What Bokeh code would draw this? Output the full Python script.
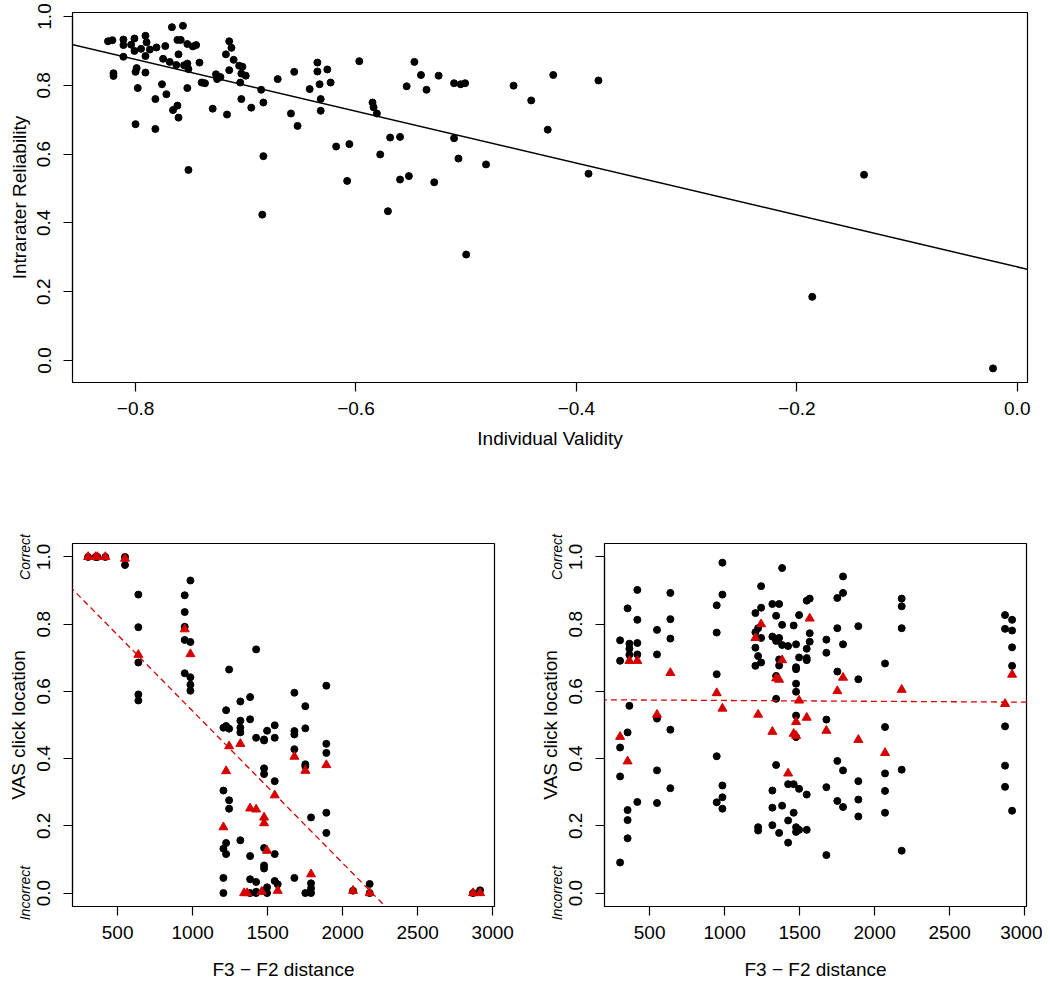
from bokeh.plotting import figure
from bokeh.layouts import column, row
from bokeh.models import Range1d, FixedTicker, CustomJSTickFormatter, Slope, LinearAxis
from bokeh.embed import file_html
from bokeh.resources import INLINE

# ---------------- top panel data ----------------
validity = [
    -0.825, -0.821, -0.811, -0.811, -0.820, -0.820, -0.811, -0.804, -0.801, -0.801,
    -0.795, -0.791, -0.790, -0.791, -0.799, -0.800, -0.791, -0.798, -0.787, -0.781,
    -0.773, -0.767, -0.757, -0.762, -0.759, -0.753, -0.748, -0.745, -0.775, -0.769,
    -0.763, -0.761, -0.756, -0.753, -0.752, -0.742, -0.776, -0.772, -0.782, -0.753,
    -0.800, -0.782, -0.766, -0.762, -0.761, -0.752, -0.740, -0.737, -0.730, -0.727,
    -0.726, -0.723, -0.718, -0.715, -0.713, -0.711, -0.715, -0.706, -0.703, -0.704,
    -0.700, -0.705, -0.704, -0.695, -0.717, -0.686, -0.684, -0.684, -0.685, -0.671,
    -0.659, -0.653, -0.656, -0.642, -0.635, -0.635, -0.626, -0.633, -0.632, -0.632,
    -0.623, -0.597, -0.585, -0.584, -0.581, -0.618, -0.606, -0.608, -0.578, -0.569,
    -0.560, -0.571, -0.560,
    -0.547, -0.541, -0.525, -0.554, -0.536, -0.511, -0.505, -0.501, -0.552, -0.529,
    -0.511, -0.507, -0.482, -0.500, -0.457, -0.441, -0.421, -0.426, -0.380, -0.389,
    -0.139, -0.186, -0.022,
]
reliability = [
    0.928, 0.931, 0.933, 0.917, 0.835, 0.827, 0.883, 0.918, 0.936, 0.900,
    0.906, 0.944, 0.925, 0.885, 0.850, 0.839, 0.837, 0.792, 0.904, 0.910,
    0.914, 0.969, 0.973, 0.932, 0.932, 0.920, 0.913, 0.917, 0.877, 0.868,
    0.859, 0.890, 0.858, 0.863, 0.847, 0.866, 0.803, 0.774, 0.760, 0.792,
    0.687, 0.673, 0.728, 0.741, 0.706, 0.554, 0.808, 0.806, 0.732, 0.832,
    0.818, 0.824, 0.890, 0.928, 0.909, 0.874, 0.844, 0.857, 0.854, 0.834,
    0.828, 0.808, 0.760, 0.735, 0.715, 0.787, 0.750, 0.594, 0.424, 0.818,
    0.718, 0.682, 0.839, 0.789, 0.866, 0.840, 0.846, 0.803, 0.760, 0.726,
    0.808, 0.870, 0.750, 0.736, 0.718, 0.622, 0.629, 0.522, 0.599, 0.648,
    0.650, 0.434, 0.526,
    0.868, 0.830, 0.828, 0.797, 0.787, 0.806, 0.803, 0.806, 0.536, 0.518,
    0.646, 0.587, 0.570, 0.308, 0.799, 0.756, 0.830, 0.671, 0.814, 0.543,
    0.540, 0.185, -0.023,
]
fit_intercept = 0.272
fit_slope = -0.754

# ---------------- bottom-left panel data ----------------
left_dot_x = [
    303, 353, 365, 418, 549, 549,
    638, 638, 638, 638, 638,
    947, 947, 947, 947, 947,
    985, 985, 985, 985, 985,
    1205, 1205, 1205, 1205, 1205,
    1223, 1223, 1223, 1223,
    1243, 1243, 1243, 1243,
    1318, 1318, 1318, 1318, 1318,
    1383, 1383, 1383, 1383, 1383,
    1423, 1423, 1423, 1423, 1423,
    1476, 1476, 1476, 1476, 1476, 1476, 1476, 1476,
    1496, 1496, 1496,
    1547, 1547, 1547, 1547, 1547,
    1567,
    1678, 1678, 1678, 1678, 1678,
    1751, 1751, 1751, 1751, 1751,
    1789, 1789, 1789, 1789,
    1891, 1891, 1891, 1891, 1891,
    2069, 2180, 2180, 2869, 2916,
]
left_dot_y = [
    1.0, 1.0, 1.0, 1.0, 1.0, 0.976,
    0.888, 0.791, 0.686, 0.591, 0.573,
    0.886, 0.836, 0.792, 0.753, 0.654,
    0.930, 0.747, 0.642, 0.620, 0.602,
    0.492, 0.305, 0.132, 0.045, 0.0,
    0.544, 0.497, 0.149, 0.116,
    0.665, 0.489, 0.276, 0.251,
    0.570, 0.513, 0.492, 0.478, 0.157,
    0.583, 0.517, 0.110, 0.041, 0.0,
    0.725, 0.462, 0.033, 0.004, 0.0,
    0.457, 0.454, 0.371, 0.354, 0.134, 0.082, 0.073, 0.006,
    0.483, 0.017, 0.0,
    0.499, 0.462, 0.333, 0.116, 0.036,
    0.026,
    0.596, 0.482, 0.472, 0.428, 0.045,
    0.556, 0.490, 0.383, 0.377, 0.0,
    0.225, 0.029, 0.014, 0.0,
    0.617, 0.444, 0.417, 0.239, 0.179,
    0.007, 0.027, 0.0, 0.0, 0.008,
]
left_tri_x = [
    303, 353, 365, 418, 549, 638, 947, 985, 1205, 1223, 1243, 1318,
    1343, 1363, 1383, 1423, 1460, 1476, 1476, 1496, 1547, 1567, 1678,
    1751, 1789, 1891, 2069, 2180, 2869, 2916,
]
left_tri_y = [
    1.0, 1.0, 1.0, 1.0, 0.995, 0.709, 0.785, 0.711, 0.196, 0.363, 0.437, 0.444,
    0.0, 0.0, 0.252, 0.249, 0.004, 0.225, 0.208, 0.126, 0.291, 0.007, 0.406,
    0.364, 0.056, 0.381, 0.007, 0.0, 0.0, 0.0,
]
left_fit_intercept = 0.994
left_fit_slope = -0.0004525

# ---------------- bottom-right panel data ----------------
right_dot_x = [
    303, 303, 303, 303, 303,
    353, 353, 353, 353, 353,
    365, 365, 365, 365,
    418, 418, 418, 418, 418,
    549, 549, 549, 549, 549,
    638, 638, 638, 638, 638,
    947, 947, 947, 947, 947,
    985, 985, 985, 985, 985,
    1205, 1205, 1205, 1205,
    1223, 1223, 1223, 1223,
    1243, 1243, 1243, 1243,
    1318, 1318, 1318, 1318, 1318,
    1343, 1343, 1343, 1343, 1343,
    1363, 1363, 1363, 1363, 1363,
    1383, 1383, 1383, 1383,
    1423, 1423, 1423, 1423,
    1460, 1460, 1460,
    1476, 1476, 1476, 1476, 1476, 1476, 1476, 1476, 1476,
    1496, 1496, 1496, 1496,
    1547, 1547, 1547, 1547, 1547, 1547,
    1567, 1567, 1567,
    1678, 1678, 1678, 1678, 1678,
    1751, 1751, 1751, 1751, 1751,
    1789, 1789, 1789, 1789, 1789,
    1891, 1891, 1891, 1891, 1891,
    2069, 2069, 2069, 2069, 2069,
    2180, 2180, 2180, 2180, 2180,
    2869, 2869, 2869, 2869, 2869,
    2916, 2916, 2916, 2916, 2916,
]
right_dot_y = [
    0.752, 0.691, 0.433, 0.347, 0.091,
    0.847, 0.478, 0.247, 0.217, 0.163,
    0.742, 0.727, 0.709, 0.557,
    0.902, 0.813, 0.744, 0.710, 0.271,
    0.783, 0.710, 0.519, 0.365, 0.268,
    0.893, 0.815, 0.757, 0.486, 0.312,
    0.856, 0.775, 0.651, 0.407, 0.270,
    0.983, 0.888, 0.320, 0.285, 0.251,
    0.833, 0.776, 0.730, 0.676,
    0.788, 0.705, 0.196, 0.186,
    0.913, 0.849, 0.759, 0.686,
    0.860, 0.763, 0.305, 0.254, 0.202,
    0.825, 0.750, 0.646, 0.578, 0.381,
    0.860, 0.759, 0.695, 0.677, 0.179,
    0.967, 0.798, 0.738, 0.260,
    0.735, 0.324, 0.216, 0.150,
    0.796, 0.324, 0.239,
    0.740, 0.672, 0.666, 0.623, 0.599, 0.528, 0.464, 0.196, 0.182,
    0.827, 0.701, 0.310, 0.188,
    0.870, 0.727, 0.699, 0.693, 0.293, 0.188,
    0.876, 0.773, 0.748,
    0.754, 0.715, 0.516, 0.315, 0.113,
    0.878, 0.788, 0.659, 0.393, 0.274,
    0.942, 0.893, 0.740, 0.365, 0.256,
    0.794, 0.636, 0.333, 0.278, 0.228,
    0.683, 0.494, 0.356, 0.304, 0.239,
    0.876, 0.853, 0.788, 0.367, 0.126,
    0.827, 0.786, 0.496, 0.379, 0.316,
    0.813, 0.781, 0.731, 0.676, 0.245,
]
right_tri_x = [
    303, 353, 365, 418, 549, 638, 947, 985, 1205, 1223, 1243, 1318,
    1343, 1363, 1383, 1423, 1460, 1476, 1476, 1496, 1547, 1567, 1678,
    1751, 1789, 1891, 2069, 2180, 2869, 2916,
]
right_tri_y = [
    0.465, 0.392, 0.691, 0.691, 0.531, 0.655, 0.595, 0.549, 0.759, 0.531, 0.800, 0.480,
    0.639, 0.635, 0.693, 0.356, 0.474, 0.468, 0.509, 0.573, 0.522, 0.817, 0.483,
    0.601, 0.641, 0.456, 0.417, 0.605, 0.563, 0.650,
]
right_fit_intercept = 0.5755
right_fit_slope = -0.0000025

top_xticks = [-0.8, -0.6, -0.4, -0.2, 0.0]
unit_yticks = [0.0, 0.2, 0.4, 0.6, 0.8, 1.0]
dist_xticks = [500, 1000, 1500, 2000, 2500, 3000]
end_ticks = [0.0, 1.0]
end_labels = ["Incorrect", "Correct"]

FONT = "Liberation Sans"
TICK_FS = "19px"
RED = "#D50000"

fmt1 = CustomJSTickFormatter(code="""
    var v = Math.abs(tick) < 1e-9 ? 0 : tick;
    return v.toFixed(1).replace('-', '\u2212');
""")


def r_style(p, xticks, yticks, xfmt, yfmt):
    p.grid.visible = False
    p.outline_line_color = "black"
    p.outline_line_width = 1.2
    p.background_fill_color = "white"
    p.border_fill_color = "white"
    for ax, ticks in ((p.xaxis[0], xticks), (p.yaxis[0], yticks)):
        ax.ticker = FixedTicker(ticks=ticks)
        ax.bounds = (min(ticks), max(ticks))
        ax.axis_line_color = "black"
        ax.axis_line_width = 1.2
        ax.major_tick_in = 0
        ax.major_tick_out = 9
        ax.major_tick_line_width = 1.2
        ax.minor_tick_line_color = None
        ax.major_label_text_font = FONT
        ax.major_label_text_font_size = TICK_FS
        ax.major_label_text_color = "black"
        ax.axis_label_text_font = FONT
        ax.axis_label_text_font_size = TICK_FS
        ax.axis_label_text_font_style = "normal"
        ax.axis_label_text_color = "black"
    if xfmt is not None:
        p.xaxis[0].formatter = xfmt
    if yfmt is not None:
        p.yaxis[0].formatter = yfmt
    p.yaxis[0].major_label_standoff = 13
    p.yaxis[0].major_label_orientation = "vertical"


# ---------------- top figure ----------------
top = figure(width=1042, height=470, output_backend="svg", toolbar_location=None,
             x_range=Range1d(-0.8572, 0.0093), y_range=Range1d(-0.064, 1.0116),
             min_border_left=72, min_border_right=15, min_border_top=12, min_border_bottom=88)
r_style(top, top_xticks, unit_yticks, fmt1, fmt1)
top.xaxis[0].axis_label = "Individual Validity"
top.xaxis[0].major_label_standoff = 10
top.xaxis[0].axis_label_standoff = 10
top.yaxis[0].axis_label = "Intrarater Reliability"
top.yaxis[0].axis_label_standoff = 5
top.scatter(validity, reliability, marker="circle", size=7, color="black")
top.add_layout(Slope(gradient=fit_slope, y_intercept=fit_intercept, line_color="black", line_width=1.5))


def bottom_panel(dx, dy, tx, ty, b0, b1, right_border):
    p = figure(width=72 + 422 + right_border, height=512, output_backend="svg", toolbar_location=None,
               x_range=Range1d(199, 3012), y_range=Range1d(-0.04, 1.04),
               min_border_left=72, min_border_right=right_border, min_border_top=73, min_border_bottom=68)
    r_style(p, dist_xticks, unit_yticks, None, fmt1)
    p.xaxis[0].axis_label = "F3 \u2212 F2 distance"
    p.xaxis[0].major_label_standoff = 10
    p.xaxis[0].axis_label_standoff = 17
    end_fmt = CustomJSTickFormatter(
        args=dict(labels=end_labels),
        code="return tick > 0.5 ? labels[1] : labels[0];")
    ax2 = LinearAxis(ticker=FixedTicker(ticks=end_ticks), formatter=end_fmt,
                     axis_line_color=None, major_tick_line_color=None,
                     major_tick_in=0, major_tick_out=0, minor_tick_line_color=None,
                     major_label_standoff=1, major_label_orientation="vertical",
                     major_label_text_font=FONT, major_label_text_font_style="italic",
                     major_label_text_font_size="14px", major_label_text_color="black",
                     axis_label="VAS click location", axis_label_standoff=-14,
                     axis_label_text_font=FONT, axis_label_text_font_size=TICK_FS,
                     axis_label_text_font_style="normal", axis_label_text_color="black")
    p.add_layout(ax2, "left")
    p.scatter(dx, dy, marker="circle", size=7, color="black")
    p.scatter(tx, ty, marker="triangle", size=9, color=RED)
    p.add_layout(Slope(gradient=b1, y_intercept=b0, line_color=RED, line_width=1.3, line_dash="6 4"))
    return p


bl = bottom_panel(left_dot_x, left_dot_y, left_tri_x, left_tri_y, left_fit_intercept, left_fit_slope, 38)
br = bottom_panel(right_dot_x, right_dot_y, right_tri_x, right_tri_y, right_fit_intercept, right_fit_slope, 16)

layout = column(top, row(bl, br))
open("out.html", "w").write(file_html(layout, INLINE))
